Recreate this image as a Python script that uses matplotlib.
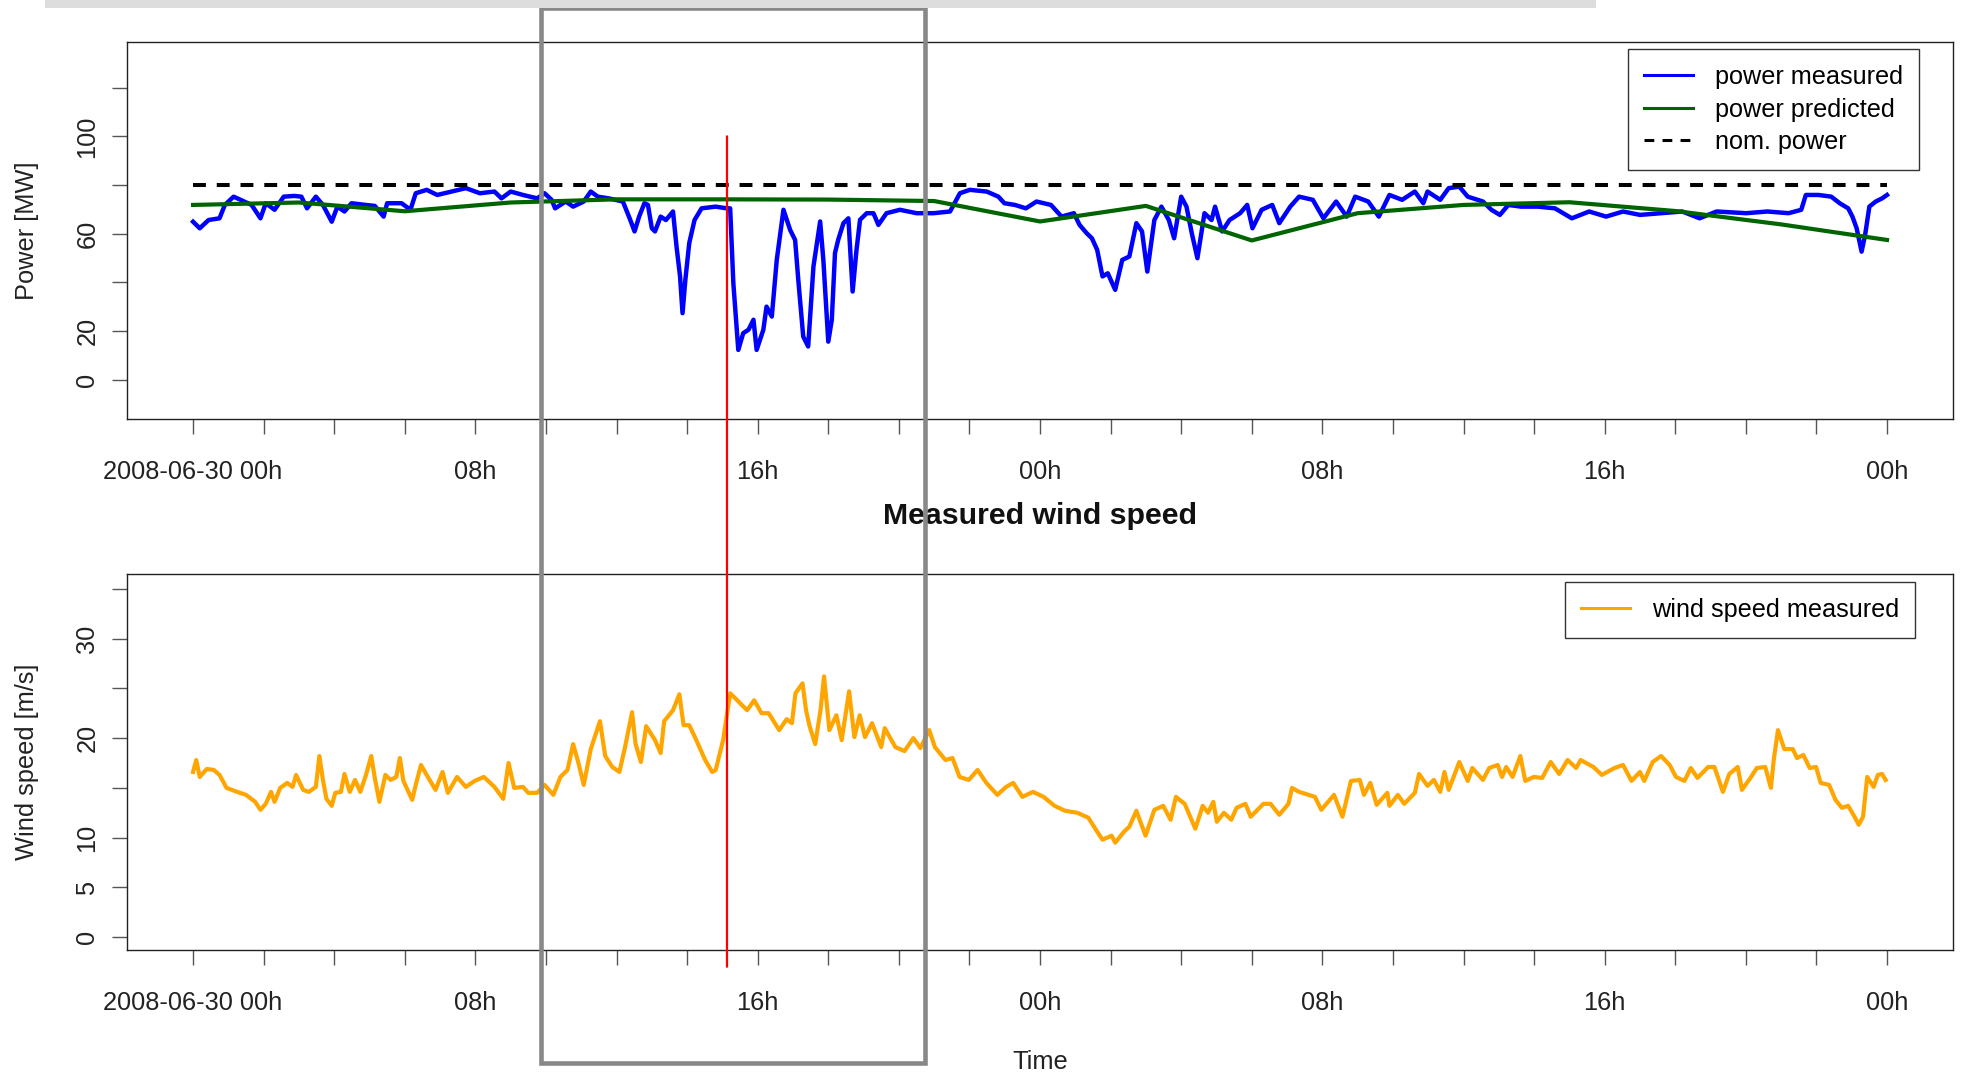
"""Wind farm day-two snapshot: measured vs predicted power, and measured wind speed.

Hours are counted from 2008-06-30 00:00; values were read off the original
screen capture, so they are approximate.
"""

import matplotlib
matplotlib.use("Agg")
import matplotlib.pyplot as plt
from matplotlib.patches import ConnectionPatch, Rectangle

plt.rcParams["font.family"] = ["Liberation Sans", "DejaVu Sans"]

# --- power measured [MW] ---------------------------------------------------
POWER_HOURS = [
    0.0, 0.19, 0.44, 0.75, 0.90, 1.15, 1.45, 1.66, 1.91, 2.06, 2.31, 2.57, 2.87,
    3.07, 3.23, 3.48, 3.68, 3.93, 4.09, 4.29, 4.49, 4.89, 5.15, 5.40, 5.50, 5.91,
    6.16, 6.31, 6.62, 6.92, 7.32, 7.73, 8.13, 8.54, 8.74, 9.00, 9.35, 9.75, 9.96,
    10.16, 10.26, 10.56, 10.77, 11.07, 11.27, 11.47, 11.78, 12.18, 12.39, 12.51,
    12.64, 12.79, 12.89, 13.00, 13.09, 13.25, 13.40, 13.60, 13.70, 13.80, 13.87,
    13.95, 14.06, 14.21, 14.41, 14.81, 15.12, 15.22, 15.31, 15.45, 15.59, 15.74,
    15.88, 15.97, 16.16, 16.25, 16.40, 16.54, 16.73, 16.92, 17.06, 17.15, 17.29,
    17.43, 17.58, 17.77, 17.86, 18.00, 18.10, 18.19, 18.28, 18.43, 18.57, 18.69,
    18.80, 18.90, 19.09, 19.28, 19.42, 19.65, 20.03, 20.50, 20.98, 21.45, 21.73,
    22.01, 22.49, 22.82, 22.99, 23.29, 23.60, 23.90, 24.31, 24.61, 24.96, 25.12,
    25.32, 25.47, 25.62, 25.77, 25.92, 26.13, 26.33, 26.53, 26.73, 26.89, 27.04,
    27.24, 27.44, 27.65, 27.80, 28.00, 28.15, 28.30, 28.46, 28.66, 28.86, 28.96,
    29.16, 29.37, 29.67, 29.87, 30.02, 30.28, 30.58, 30.78, 31.09, 31.34, 31.73,
    32.03, 32.39, 32.69, 32.93, 33.30, 33.60, 33.90, 34.26, 34.62, 34.86, 34.98,
    35.34, 35.58, 35.88, 36.12, 36.55, 36.79, 37.03, 37.27, 37.63, 38.11, 38.59,
    39.07, 39.56, 40.04, 40.52, 41.00, 41.60, 42.20, 42.69, 43.17, 44.01, 44.61,
    45.21, 45.57, 45.70, 46.06, 46.42, 46.66, 46.90, 47.02, 47.14, 47.28, 47.38,
    47.50, 47.68, 47.86, 48.0,
]
POWER_MW = [
    64.9, 62.2, 65.6, 66.3, 71.8, 75.2, 73.2, 71.8, 66.3, 72.5, 69.8, 75.2, 75.5,
    75.2, 70.4, 75.2, 71.8, 64.9, 71.1, 69.1, 72.5, 71.8, 71.4, 67.0, 72.5, 72.5,
    69.8, 76.6, 78.0, 75.9, 77.3, 78.7, 76.6, 77.3, 74.5, 77.3, 75.9, 74.5, 76.6,
    73.9, 70.4, 73.2, 71.1, 73.2, 77.3, 75.2, 74.5, 73.2, 65.6, 60.9,
    67.0, 72.5, 71.8, 62.2, 60.9, 67.0, 65.6, 69.1, 54.7, 42.4, 27.3,
    41.0, 56.1, 65.6, 70.4, 71.1, 70.4, 70.4, 39.6, 12.2, 19.1, 20.5,
    24.6, 12.2, 20.5, 30.0, 25.9, 49.2, 69.8, 61.5, 57.4, 41.0, 17.7,
    13.6, 46.5, 65.0, 49.2, 15.6, 24.6, 52.0, 57.4, 64.3, 66.3, 36.2,
    53.3, 65.7, 68.4, 68.4, 63.6, 68.4, 69.8, 68.4, 68.4, 69.1, 76.6,
    78.0, 77.3, 75.2, 72.5, 71.8, 70.4, 73.2, 71.8, 67.0, 68.4, 63.6,
    60.2, 58.1, 53.3, 42.4, 43.7, 36.9, 49.2, 50.6, 64.3, 60.9, 44.4,
    65.6, 71.1, 65.6, 58.1, 75.2, 71.1, 60.2, 49.9, 68.4, 65.6, 71.1,
    60.9, 65.6, 68.4, 71.8, 62.2, 69.8, 71.8, 64.3, 71.1, 75.2, 73.9,
    66.3, 73.2, 67.0, 75.2, 73.2, 67.0, 75.9, 73.9, 77.3, 72.5, 77.3,
    73.9, 78.7, 79.3, 75.2, 73.2, 69.8, 67.7, 71.8, 71.1, 71.1, 70.4,
    66.3, 69.1, 67.0, 69.1, 67.7, 68.4, 69.1, 66.3, 69.1, 68.4, 69.1,
    68.4, 69.8, 75.9, 75.9, 75.2, 72.5, 70.4, 67.0, 62.2, 52.6, 59.5,
    71.1, 73.2, 74.5, 75.9,
]

# --- power predicted [MW], 3-hourly forecast --------------------------------
PRED_HOURS = [0, 3, 6, 9, 12, 15, 18, 21, 24, 27, 30, 33, 36, 39, 42, 45, 48]
PRED_MW = [71.8, 72.8, 69.2, 72.8, 74.1, 74.1, 74.0, 73.4, 65.0, 71.4, 57.2,
           68.4, 71.8, 72.9, 69.3, 63.8, 57.4]

NOMINAL_MW = 80

# --- wind speed measured [m/s] ---------------------------------------------
WIND_HOURS = [
    0.0, 0.09, 0.19, 0.39, 0.59, 0.75, 0.95, 1.25, 1.50, 1.76, 1.91, 2.06, 2.21,
    2.31, 2.47, 2.67, 2.82, 2.92, 3.12, 3.28, 3.48, 3.58, 3.68, 3.78, 3.93, 4.03,
    4.19, 4.29, 4.44, 4.59, 4.74, 4.90, 5.05, 5.15, 5.28, 5.45, 5.60, 5.76, 5.86,
    5.96, 6.21, 6.31, 6.46, 6.62, 6.87, 7.07, 7.22, 7.48, 7.73, 7.98, 8.24, 8.54,
    8.79, 8.94, 9.10, 9.35, 9.50, 9.75, 9.96, 10.21, 10.41, 10.61, 10.77, 10.92,
    11.07, 11.27, 11.53, 11.68, 11.88, 12.08, 12.23, 12.44, 12.54, 12.69, 12.84,
    13.09, 13.25, 13.35, 13.60, 13.78, 13.90, 14.06, 14.26, 14.51, 14.71, 14.81,
    15.02, 15.22, 15.42, 15.50, 15.70, 15.90, 16.11, 16.31, 16.61, 16.82, 16.97,
    17.07, 17.27, 17.37, 17.47, 17.63, 17.78, 17.88, 18.03, 18.23, 18.38, 18.59,
    18.74, 18.89, 19.04, 19.24, 19.50, 19.60, 19.90, 20.16, 20.41, 20.61, 20.86,
    21.02, 21.32, 21.52, 21.72, 21.98, 22.23, 22.48, 22.79, 23.04, 23.24, 23.50,
    23.80, 24.10, 24.41, 24.71, 25.06, 25.37, 25.62, 25.77, 26.03, 26.13, 26.38,
    26.53, 26.73, 26.99, 27.24, 27.49, 27.70, 27.85, 28.10, 28.40, 28.61, 28.76,
    28.91, 29.01, 29.21, 29.42, 29.57, 29.82, 29.97, 30.33, 30.53, 30.78, 31.04,
    31.14, 31.34, 31.79, 31.97, 32.33, 32.57, 32.81, 33.06, 33.18, 33.36, 33.54,
    33.84, 33.90, 34.14, 34.32, 34.62, 34.74, 34.98, 35.16, 35.34, 35.46, 35.58,
    35.88, 36.12, 36.25, 36.55, 36.73, 36.97, 37.09, 37.21, 37.39, 37.61, 37.75,
    37.99, 38.23, 38.47, 38.71, 38.95, 39.19, 39.32, 39.68, 39.92, 40.28, 40.52,
    40.76, 41.00, 41.12, 41.36, 41.60, 41.84, 42.02, 42.26, 42.44, 42.63, 42.93,
    43.11, 43.35, 43.53, 43.77, 43.89, 44.13, 44.31, 44.55, 44.71, 44.79, 44.91,
    45.09, 45.33, 45.45, 45.63, 45.81, 45.99, 46.12, 46.36, 46.54, 46.72, 46.90,
    47.08, 47.20, 47.32, 47.44, 47.62, 47.74, 47.86, 47.96,
]
WIND_MS = [
    16.6, 17.8, 16.1, 16.9, 16.8, 16.3, 15.0, 14.6, 14.3, 13.6, 12.8, 13.4, 14.6,
    13.6, 15.0, 15.5, 15.1, 16.3, 14.8, 14.6, 15.1, 18.2, 15.8, 13.9, 13.2, 14.5,
    14.6, 16.4, 14.6, 15.8, 14.6, 16.3, 18.2, 16.0, 13.6, 16.3, 15.8, 16.1, 18.0,
    15.7, 13.8, 15.3, 17.3, 16.3, 14.8, 16.6, 14.5, 16.1, 15.1, 15.7, 16.1, 15.1,
    13.9, 17.5, 15.0, 15.1, 14.5, 14.5, 15.3, 14.3, 16.1, 16.8, 19.4, 17.5,
    15.3, 18.9, 21.7, 18.2, 17.1, 16.6, 18.9, 22.6, 19.4, 17.6, 21.2,
    19.8, 18.5, 21.7, 22.8, 24.4, 21.3, 21.3, 19.8, 17.8, 16.6, 16.8,
    19.8, 24.5, 23.8, 23.5, 22.8, 23.8, 22.5, 22.5, 20.8, 21.9, 21.5,
    24.5, 25.5, 22.8, 21.2, 19.4, 22.8, 26.2, 20.8, 22.3, 19.8, 24.7,
    20.1, 22.3, 20.1, 21.5, 19.1, 21.0, 19.1, 18.7, 20.0, 19.0, 20.8,
    19.1, 17.8, 18.0, 16.1, 15.8, 16.8, 15.5, 14.3, 15.1, 15.5, 14.1,
    14.6, 14.1, 13.2, 12.7, 12.5, 12.0, 10.6, 9.8, 10.2, 9.5, 10.6,
    11.1, 12.7, 10.2, 12.8, 13.2, 11.8, 14.1, 13.4, 10.9, 13.2, 12.5,
    13.6, 11.6, 12.5, 11.8, 13.0, 13.4, 12.1, 13.4, 13.4, 12.3, 13.4,
    15.0, 14.6, 14.1, 12.8, 14.3, 12.1, 15.7, 15.8, 14.3, 15.5, 13.3,
    14.5, 13.2, 14.3, 13.4, 14.5, 16.4, 15.2, 15.8, 14.6, 16.6, 14.8,
    17.6, 15.7, 17.0, 15.8, 17.0, 17.3, 16.1, 17.1, 16.1, 18.2, 15.7,
    16.1, 16.0, 17.6, 16.4, 17.8, 17.0, 17.8, 17.1, 16.3, 17.0, 17.3,
    15.7, 16.6, 15.7, 17.6, 18.2, 17.3, 16.1, 15.7, 17.0, 16.0, 17.1,
    17.1, 14.6, 16.4, 17.1, 14.8, 16.0, 17.0, 17.1, 15.0, 17.8, 20.8,
    18.9, 18.9, 18.0, 18.3, 17.0, 17.1, 15.5, 15.3, 13.8, 13.0, 13.2,
    12.1, 11.3, 12.1, 16.1, 15.1, 16.3, 16.4, 15.8,
]

MARKER_HOUR = 15.13  # the red "now" cursor

TICK_HOURS = list(range(0, 49, 2))
TICK_TEXT = {0: "2008-06-30 00h", 8: "08h", 16: "16h", 24: "00h",
             32: "08h", 40: "16h", 48: "00h"}

W, H = 1966, 1081
FONT = 18.3


def _px_box(left, top, right, bottom):
    """Axes rectangle from pixel edges of the 1966x1081 canvas."""
    return [left / W, 1 - bottom / H, (right - left) / W, (bottom - top) / H]


def _style(ax, yticks, ylabels, ylim, ylabel):
    ax.set_xlim(-1.88, 49.87)
    ax.set_ylim(*ylim)
    ax.set_xticks(TICK_HOURS)
    ax.set_xticklabels([TICK_TEXT.get(h, "") for h in TICK_HOURS])
    ax.set_yticks(yticks)
    ax.set_yticklabels(ylabels, rotation=90, va="center")
    ax.tick_params(length=10.8, width=1.0, color="#555555",
                   labelsize=FONT, labelcolor="#222222")
    ax.tick_params(axis="x", pad=18.5)
    ax.tick_params(axis="y", pad=8.8)
    for spine in ax.spines.values():
        spine.set_color("#222222")
        spine.set_linewidth(1.0)
    ax.set_ylabel(ylabel, fontsize=FONT, color="#222222", va="center")
    ax.yaxis.set_label_coords(-0.0548, 0.5)


def _legend(ax, anchor):
    leg = ax.legend(loc="upper right", bbox_to_anchor=anchor, borderaxespad=0,
                    fancybox=False, framealpha=1, edgecolor="#333333",
                    fontsize=18.2, handlelength=1.95, handletextpad=0.88,
                    borderpad=0.62, labelspacing=0.34)
    leg.get_frame().set_linewidth(1.0)
    for line in leg.get_lines():
        line.set_linewidth(2.2)
    return leg


def main():
    fig = plt.figure(figsize=(W / 100, H / 100), dpi=100)
    ax_p = fig.add_axes(_px_box(126.7, 41.7, 1953, 419))
    ax_w = fig.add_axes(_px_box(126.7, 574, 1953, 950))

    # top panel: power
    ax_p.plot(POWER_HOURS, POWER_MW, color="#0000ff", lw=3.2,
              solid_joinstyle="round", label="power measured")
    ax_p.plot(PRED_HOURS, PRED_MW, color="#006400", lw=3.0,
              label="power predicted")
    ax_p.plot([PRED_HOURS[0], PRED_HOURS[-1]], [NOMINAL_MW, NOMINAL_MW],
              color="black", lw=2.9, dashes=(3.2, 2.7), label="nom. power")
    _style(ax_p, [0, 20, 40, 60, 80, 100, 120],
           ["0", "20", "", "60", "", "100", ""], (-16.2, 138.9), "Power [MW]")
    _legend(ax_p, (0.9814, 0.9799))

    # bottom panel: wind speed
    ax_w.plot(WIND_HOURS, WIND_MS, color="#ffa500", lw=3.0,
              solid_joinstyle="round", label="wind speed measured")
    _style(ax_w, [0, 5, 10, 15, 20, 25, 30, 35],
           ["0", "5", "10", "", "20", "", "30", ""], (-1.28, 36.48),
           "Wind speed [m/s]")
    _legend(ax_w, (0.9792, 0.978))
    ax_w.set_title("Measured wind speed", fontsize=21.8, fontweight="bold",
                   color="#111111", y=1.153, va="center", pad=0)
    ax_w.set_xlabel("Time", fontsize=FONT, color="#222222", va="center")
    ax_w.xaxis.set_label_coords(0.5, -0.2979)

    # overlays from the dashboard: cursor, selection window, header strip
    cursor = ConnectionPatch(xyA=(MARKER_HOUR, 100), coordsA=ax_p.transData,
                             xyB=(MARKER_HOUR, -2.96), coordsB=ax_w.transData,
                             color="#ff0000", lw=1.6)
    fig.add_artist(cursor)
    fig.add_artist(Rectangle((540.8 / W, 1 - 1063 / H), (925 - 540.8) / W,
                             (1063 - 7.8) / H, transform=fig.transFigure,
                             fill=False, edgecolor="#888888", lw=3.3))
    fig.add_artist(Rectangle((45 / W, 1 - 7.7 / H), (1596 - 45) / W, 7.7 / H,
                             transform=fig.transFigure, facecolor="#dddddd",
                             edgecolor="none"))

    fig.savefig("out.png", dpi=100)


if __name__ == "__main__":
    main()
